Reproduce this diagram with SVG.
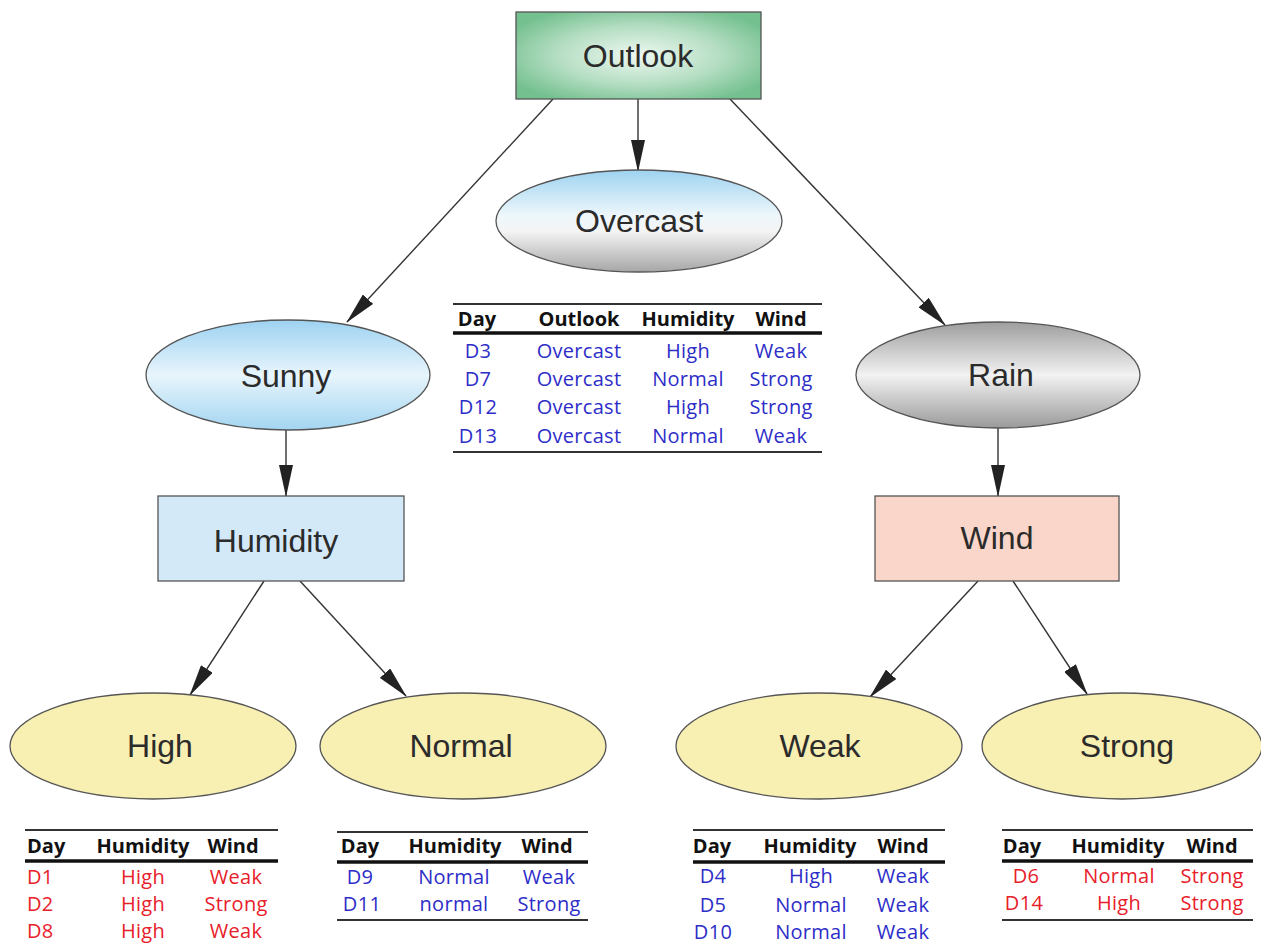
<svg xmlns="http://www.w3.org/2000/svg" width="1261" height="946" viewBox="0 0 1261 946">
<defs>
<radialGradient id="gOutlook" cx="0.5" cy="0.5" r="0.6">
<stop offset="0" stop-color="#eef8f1"/><stop offset="0.55" stop-color="#b5dec3"/><stop offset="1" stop-color="#74c08f"/>
</radialGradient>
<linearGradient id="gOvercast" x1="0" y1="0" x2="0" y2="1">
<stop offset="0" stop-color="#9ed3f1"/><stop offset="0.45" stop-color="#eef7fb"/><stop offset="0.6" stop-color="#f4f4f4"/><stop offset="1" stop-color="#a6a6a6"/>
</linearGradient>
<linearGradient id="gSunny" x1="0" y1="0" x2="0" y2="1">
<stop offset="0" stop-color="#9dd2f1"/><stop offset="0.5" stop-color="#e8f5fc"/><stop offset="1" stop-color="#a3d5f1"/>
</linearGradient>
<linearGradient id="gRain" x1="0" y1="0" x2="0" y2="1">
<stop offset="0" stop-color="#9e9e9e"/><stop offset="0.5" stop-color="#f2f2f2"/><stop offset="1" stop-color="#9a9a9a"/>
</linearGradient>
<marker id="arr" markerUnits="userSpaceOnUse" markerWidth="32" markerHeight="14" viewBox="0 0 32 14" refX="31" refY="7" orient="auto">
<path d="M0,0 L32,7 L0,14 Z" fill="#222"/>
</marker>
<style>
.node{stroke:#555;stroke-width:1.3}
.lbl{font-family:"Liberation Sans",Arial,sans-serif;font-size:32px;fill:#2b2b2b;text-anchor:middle}
.edge{stroke:#333;stroke-width:1.4;fill:none;marker-end:url(#arr)}
.leaf{fill:#f8efb3}
.th{font-family:"Open Sans","Noto Sans",sans-serif;font-weight:bold;font-size:20px;fill:#111;text-anchor:middle}
.td{font-family:"Open Sans","Noto Sans",sans-serif;font-size:20px;letter-spacing:0.3px;text-anchor:middle}
.st{text-anchor:start}
.blue{fill:#2d2dc8}
.red{fill:#e8202a}
.tl{stroke:#333;stroke-width:2}
.tk{stroke:#111;stroke-width:3.5}
</style>
</defs>
<rect width="1261" height="946" fill="#fff"/>

<g id="connectors">
<line class="edge" x1="638" y1="99" x2="638" y2="171"/>
<line class="edge" x1="553" y1="99" x2="347" y2="322"/>
<line class="edge" x1="730" y1="99" x2="945" y2="325"/>
<line class="edge" x1="286" y1="430" x2="286" y2="496"/>
<line class="edge" x1="998" y1="428" x2="998" y2="496"/>
<line class="edge" x1="264" y1="581" x2="190" y2="695"/>
<line class="edge" x1="300" y1="581" x2="406" y2="696"/>
<line class="edge" x1="978" y1="581" x2="870" y2="697"/>
<line class="edge" x1="1013" y1="581" x2="1087" y2="694"/>
</g>

<g id="outlook">
<rect class="node" x="516" y="12" width="245" height="87" fill="url(#gOutlook)"/>
<text class="lbl" x="638" y="67" font-size="30">Outlook</text>
</g>
<g id="overcast">
<ellipse class="node" cx="639" cy="221" rx="143" ry="51" fill="url(#gOvercast)"/>
<text class="lbl" x="639" y="232">Overcast</text>
</g>
<g id="sunny">
<ellipse class="node" cx="288" cy="375" rx="142" ry="55" fill="url(#gSunny)"/>
<text class="lbl" x="286" y="387">Sunny</text>
</g>
<g id="rain">
<ellipse class="node" cx="998" cy="375" rx="142" ry="53" fill="url(#gRain)"/>
<text class="lbl" x="1001" y="386">Rain</text>
</g>
<g id="humidity">
<rect class="node" x="158" y="496" width="246" height="85" fill="#d4e9f8"/>
<text class="lbl" x="276" y="552">Humidity</text>
</g>
<g id="wind">
<rect class="node" x="875" y="496" width="244" height="85" fill="#f9d6c9"/>
<text class="lbl" x="997" y="549">Wind</text>
</g>
<g id="high">
<ellipse class="node leaf" cx="153" cy="746" rx="143" ry="53"/>
<text class="lbl" x="160" y="757">High</text>
</g>
<g id="normal">
<ellipse class="node leaf" cx="463" cy="746" rx="143" ry="53"/>
<text class="lbl" x="461" y="757">Normal</text>
</g>
<g id="weak">
<ellipse class="node leaf" cx="819" cy="746" rx="143" ry="53"/>
<text class="lbl" x="820" y="757">Weak</text>
</g>
<g id="strong">
<ellipse class="node leaf" cx="1122" cy="746" rx="140" ry="53"/>
<text class="lbl" x="1127" y="757">Strong</text>
</g>

<g id="table-overcast">
<line class="tl" x1="453" y1="304" x2="822" y2="304"/>
<text class="th" x="477" y="326">Day</text>
<text class="th" x="579" y="326">Outlook</text>
<text class="th" x="688" y="326">Humidity</text>
<text class="th" x="781" y="326">Wind</text>
<line class="tk" x1="453" y1="333" x2="822" y2="333"/>
<g class="blue">
<text class="td" x="478" y="358">D3</text><text class="td" x="579" y="358">Overcast</text><text class="td" x="688" y="358">High</text><text class="td" x="781" y="358">Weak</text>
<text class="td" x="478" y="386">D7</text><text class="td" x="579" y="386">Overcast</text><text class="td" x="688" y="386">Normal</text><text class="td" x="781" y="386">Strong</text>
<text class="td" x="478" y="414">D12</text><text class="td" x="579" y="414">Overcast</text><text class="td" x="688" y="414">High</text><text class="td" x="781" y="414">Strong</text>
<text class="td" x="478" y="443">D13</text><text class="td" x="579" y="443">Overcast</text><text class="td" x="688" y="443">Normal</text><text class="td" x="781" y="443">Weak</text>
</g>
<line class="tl" x1="453" y1="452" x2="822" y2="452"/>
</g>

<g id="table-high">
<line class="tl" x1="25" y1="830" x2="278" y2="830"/>
<text class="th st" x="27" y="853">Day</text>
<text class="th" x="143" y="853">Humidity</text>
<text class="th" x="233" y="853">Wind</text>
<line class="tk" x1="25" y1="861" x2="278" y2="861"/>
<g class="red">
<text class="td st" x="27" y="884">D1</text><text class="td" x="143" y="884">High</text><text class="td" x="236" y="884">Weak</text>
<text class="td st" x="27" y="911">D2</text><text class="td" x="143" y="911">High</text><text class="td" x="236" y="911">Strong</text>
<text class="td st" x="27" y="938">D8</text><text class="td" x="143" y="938">High</text><text class="td" x="236" y="938">Weak</text>
</g>
</g>

<g id="table-normal">
<line class="tl" x1="337" y1="832" x2="588" y2="832"/>
<text class="th" x="360" y="853">Day</text>
<text class="th" x="455" y="853">Humidity</text>
<text class="th" x="547" y="853">Wind</text>
<line class="tk" x1="337" y1="862" x2="588" y2="862"/>
<g class="blue">
<text class="td" x="360" y="884">D9</text><text class="td" x="454" y="884">Normal</text><text class="td" x="549" y="884">Weak</text>
<text class="td" x="362" y="911">D11</text><text class="td" x="454" y="911">normal</text><text class="td" x="549" y="911">Strong</text>
</g>
<line class="tl" x1="337" y1="920" x2="588" y2="920"/>
</g>

<g id="table-weak">
<line class="tl" x1="693" y1="830" x2="945" y2="830"/>
<text class="th" x="712" y="853">Day</text>
<text class="th" x="810" y="853">Humidity</text>
<text class="th" x="903" y="853">Wind</text>
<line class="tk" x1="693" y1="862" x2="945" y2="862"/>
<g class="blue">
<text class="td" x="713" y="883">D4</text><text class="td" x="811" y="883">High</text><text class="td" x="903" y="883">Weak</text>
<text class="td" x="713" y="912">D5</text><text class="td" x="811" y="912">Normal</text><text class="td" x="903" y="912">Weak</text>
<text class="td" x="713" y="939">D10</text><text class="td" x="811" y="939">Normal</text><text class="td" x="903" y="939">Weak</text>
</g>
</g>

<g id="table-strong">
<line class="tl" x1="1002" y1="830" x2="1253" y2="830"/>
<text class="th" x="1022" y="853">Day</text>
<text class="th" x="1118" y="853">Humidity</text>
<text class="th" x="1212" y="853">Wind</text>
<line class="tk" x1="1002" y1="861" x2="1253" y2="861"/>
<g class="red">
<text class="td" x="1026" y="883">D6</text><text class="td" x="1119" y="883">Normal</text><text class="td" x="1212" y="883">Strong</text>
<text class="td" x="1024" y="910">D14</text><text class="td" x="1119" y="910">High</text><text class="td" x="1212" y="910">Strong</text>
</g>
<line class="tl" x1="1002" y1="920" x2="1253" y2="920"/>
</g>
</svg>
